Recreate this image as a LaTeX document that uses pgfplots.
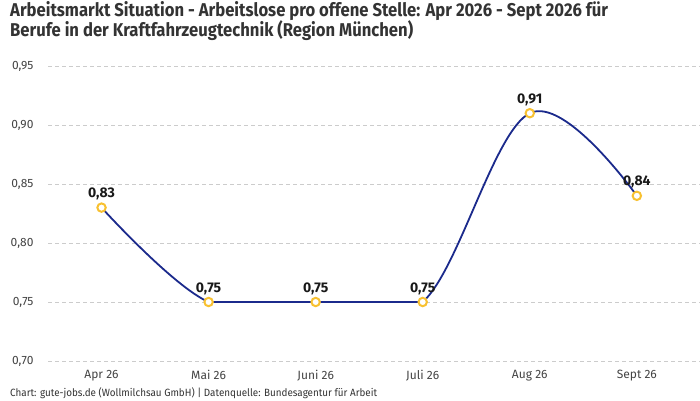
\documentclass[border=0pt]{standalone}
\usepackage{pgfplots}
\pgfplotsset{compat=1.18}
\usepackage{fontspec}
\setmainfont{Fira Sans}
\newfontfamily\titlefont[FakeStretch=0.9]{Fira Sans}
\newfontfamily\condfont[FakeStretch=0.94]{Fira Sans}
\definecolor{linec}{HTML}{1B2A8C}
\definecolor{markc}{HTML}{F8C131}
\definecolor{gridc}{HTML}{CCCCCC}
\definecolor{txt}{HTML}{333333}
\definecolor{tick}{HTML}{444444}
\pgfplotsset{
  common/.style={anchor=south west, scale only axis, height=295pt, ymin=0.70, ymax=0.95},
}
\begin{document}
\begin{tikzpicture}
\useasboundingbox (0pt,0pt) rectangle (700pt,400pt);
\fill[white] (0pt,0pt) rectangle (700pt,400pt);
\node[anchor=base west, inner sep=0, text=txt, font=\titlefont\bfseries\fontsize{18.5}{20}\selectfont] at (10pt,383pt) {Arbeitsmarkt Situation - Arbeitslose pro offene Stelle: Apr 2026 - Sept 2026 für};
\node[anchor=base west, inner sep=0, text=txt, font=\titlefont\bfseries\fontsize{18.5}{20}\selectfont] at (10pt,363pt) {Berufe in der Kraftfahrzeugtechnik (Region München)};
% main axis: grid, ticks, flat part
\begin{axis}[common,
  at={(48pt,39pt)},
  width=652pt,
  xmin=-0.5, xmax=5.59,
  ytick={0.70,0.75,0.80,0.85,0.90,0.95},
  xtick={0,1,2,3,4,5},
  xticklabels={Apr 26,Mai 26,Juni 26,Juli 26,Aug 26,Sept 26},
  axis line style={draw=none},
  major tick length=0pt,
  ymajorgrids,
  grid style={gridc, dash pattern=on 4pt off 3pt, line width=0.8pt},
  /pgf/number format/assume math mode=true,
  y tick label style={/pgf/number format/fixed, /pgf/number format/fixed zerofill, /pgf/number format/precision=2, /pgf/number format/use comma},
  tick label style={font=\fontsize{12}{14}\selectfont, text=tick},
  yticklabel shift=11pt,
  xticklabel shift=6pt,
  clip=false,
]
\addplot[linec, line width=1.8pt] coordinates {(1,0.75)(2,0.75)(3,0.75)};
\end{axis}
% left curved part, clipped at Mai
\begin{axis}[common, at={(48pt,39pt)}, width=160.59pt, xmin=-0.5, xmax=1, hide axis, clip=true]
\addplot[linec, line width=1.8pt, smooth, tension=0.6] coordinates {(0,0.83)(1,0.75)(2,0.75)};
\end{axis}
% right curved part, clipped at Juli
\begin{axis}[common, at={(422.71pt,39pt)}, width=277.29pt, xmin=3, xmax=5.59, hide axis, clip=true]
\addplot[linec, line width=1.8pt, smooth, tension=0.6] coordinates {(2,0.75)(3,0.75)(4,0.91)(5,0.84)};
\end{axis}
% markers and value labels
\begin{axis}[common, at={(48pt,39pt)}, width=652pt, xmin=-0.5, xmax=5.59, hide axis, clip=false]
\addplot[only marks, mark=*, mark size=4.2pt, mark options={draw=markc, fill=white, line width=2pt},
  point meta=y,
  nodes near coords={\pgfmathprintnumber[fixed,fixed zerofill,precision=2,use comma,assume math mode=true]{\pgfplotspointmeta}},
  nodes near coords style={font=\fontsize{14}{16}\selectfont\bfseries, text=black!90, anchor=base, yshift=10pt}]
  coordinates {(0,0.83)(1,0.75)(2,0.75)(3,0.75)(4,0.91)(5,0.84)};
\end{axis}
\node[anchor=base west, inner sep=0, text=txt, font=\condfont\fontsize{10.5}{12}\selectfont] at (10pt,4pt) {Chart: gute-jobs.de (Wollmilchsau GmbH) | Datenquelle: Bundesagentur für Arbeit};
\end{tikzpicture}
\end{document}
